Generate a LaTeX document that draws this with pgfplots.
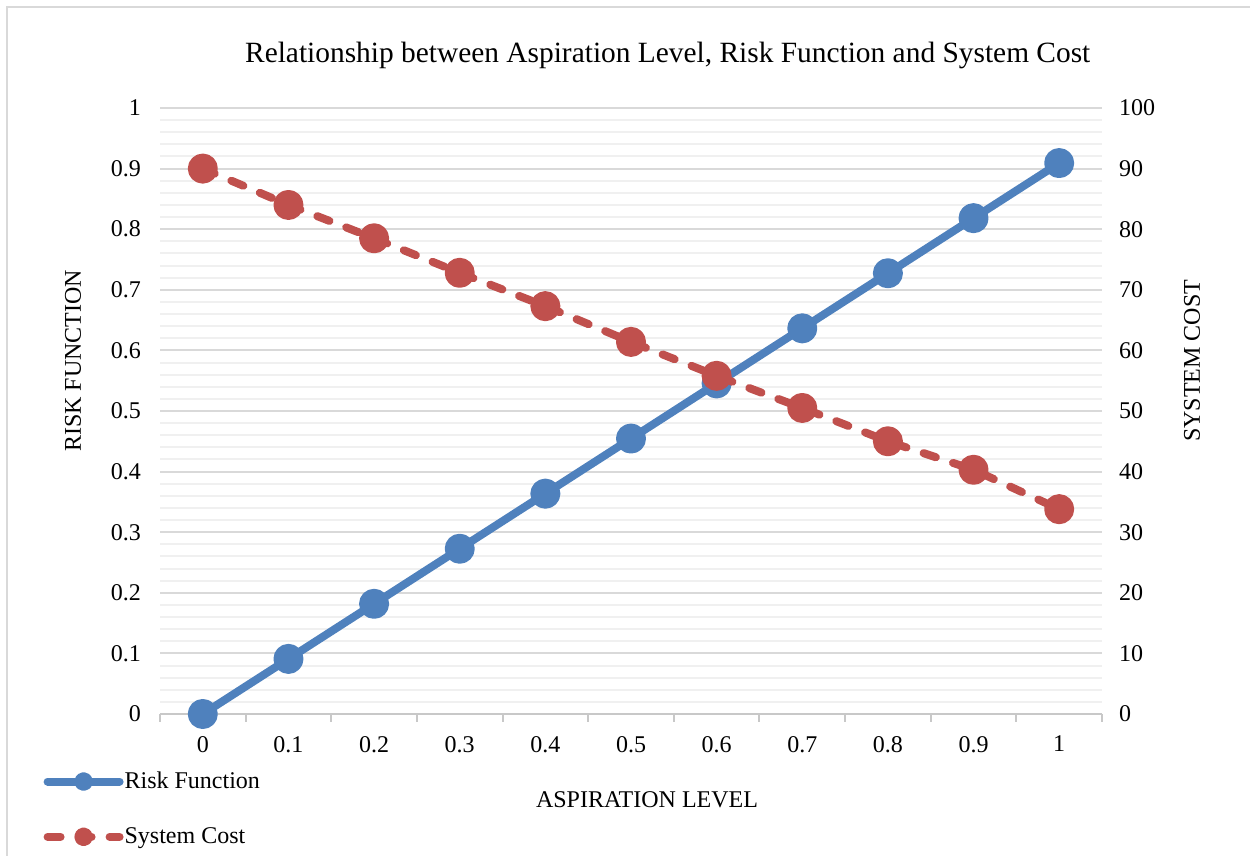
\documentclass[border=0pt]{standalone}
\usepackage{pgfplots}
\pgfplotsset{compat=1.18}
\usepackage{pgfplotstable}
\usepackage{fontspec}
\setmainfont{Liberation Serif}

\definecolor{riskblue}{HTML}{4F81BD}
\definecolor{costred}{HTML}{C0504D}
\definecolor{majgrid}{HTML}{D9D9D9}
\definecolor{mingrid}{HTML}{F0F0F0}
\definecolor{axisgray}{HTML}{C8C8C8}
\definecolor{framegray}{HTML}{D9D9D9}

% aspiration level vs. risk function and system cost
\pgfplotstableread{
level risk
0.0 0.0000
0.1 0.0909
0.2 0.1818
0.3 0.2727
0.4 0.3636
0.5 0.4545
0.6 0.5455
0.7 0.6364
0.8 0.7273
0.9 0.8182
1.0 0.9091
}\risktable

\pgfplotstableread{
level cost
0.0 90.0
0.1 84.0
0.2 78.5
0.3 72.8
0.4 67.3
0.5 61.4
0.6 55.8
0.7 50.5
0.8 45.0
0.9 40.3
1.0 33.8
}\costtable

\pgfplotsset{
  common/.style={
    scale only axis,
    width=471pt, height=303pt,
    at={(80pt,71pt)}, anchor=south west,
    xmin=-0.05, xmax=1.05,
    font=\fontsize{12}{14}\selectfont,
    /pgf/number format/assume math mode=true,
    major tick length=0pt,
    tick style={draw=none},
  },
  riskstyle/.style={riskblue, line width=4pt, line cap=round, line join=round,
    mark=*, mark size=5.5pt, mark options={fill=riskblue, draw=riskblue, solid}},
  coststyle/.style={costred, line width=4pt, line cap=round, line join=round,
    dash pattern=on 6.5pt off 9pt,
    mark=*, mark size=5.5pt, mark options={fill=costred, draw=costred, solid}},
}

\begin{document}
\begin{tikzpicture}
\path[use as bounding box] (0,0) rectangle (625pt,428pt);
\draw[framegray, line width=1pt] (3.5pt,0) -- (3.5pt,424.5pt) -- (625pt,424.5pt);

% left axis: risk function
\begin{axis}[
  common,
  ymin=0, ymax=1,
  xtick={0,0.1,0.2,0.3,0.4,0.5,0.6,0.7,0.8,0.9,1},
  xticklabels={0,0.1,0.2,0.3,0.4,0.5,0.6,0.7,0.8,0.9,1},
  minor xtick={-0.05,0.05,0.15,0.25,0.35,0.45,0.55,0.65,0.75,0.85,0.95,1.05},
  minor x tick style={draw=axisgray, line width=1pt},
  minor tick length=4pt,
  tick align=outside,
  ytick={0,0.1,0.2,0.3,0.4,0.5,0.6,0.7,0.8,0.9,1},
  yticklabels={0,0.1,0.2,0.3,0.4,0.5,0.6,0.7,0.8,0.9,1},
  minor y tick num=4,
  minor y tick style={draw=none},
  ymajorgrids, yminorgrids,
  major grid style={majgrid, line width=1pt},
  minor grid style={mingrid, line width=1pt},
  axis x line*=bottom, axis y line*=left,
  x axis line style={axisgray, line width=1pt, -},
  y axis line style={draw=none},
  xticklabel style={yshift=-7.5pt},
  yticklabel style={xshift=-6pt},
  every axis y label/.style={at={(axis description cs:-0.0924,0.583)}, rotate=90, anchor=center},
  every axis x label/.style={at={(axis description cs:0.517,-0.142)}, anchor=center},
  ylabel={RISK FUNCTION},
  xlabel={ASPIRATION LEVEL},
  title={Relationship between Aspiration Level, Risk Function and System Cost},
  every axis title/.style={at={(axis description cs:0.539,1.086)}, anchor=center,
    font=\fontsize{14.7}{17}\selectfont},
]
\addplot[riskstyle] table[x=level, y=risk] {\risktable};
\end{axis}

% right axis: system cost
\begin{axis}[
  common,
  ymin=0, ymax=100,
  xtick=\empty,
  axis x line=none,
  axis y line*=right,
  y axis line style={draw=none},
  ytick={0,10,20,30,40,50,60,70,80,90,100},
  yticklabel style={xshift=5pt, anchor=west},
  every axis y label/.style={at={(axis description cs:1.0955,0.583)}, rotate=90, anchor=center},
  ylabel={SYSTEM COST},
  legend cell align=left,
  legend style={at={(axis description cs:-0.124,-0.088)}, anchor=north west,
    draw=none, fill=none, inner sep=0pt, row sep=14pt,
    font=\fontsize{12}{14}\selectfont,
    nodes={inner xsep=0.5pt}},
  legend image code/.code={%
    \draw[mark repeat=2, mark phase=2, #1, mark size=2.7pt]
      plot coordinates {(0pt,0pt) (18pt,0pt) (36pt,0pt)};},
]
\addlegendimage{riskstyle}
\addlegendentry{Risk Function}
\addplot[coststyle] table[x=level, y=cost] {\costtable};
\addlegendentry{System Cost}
\end{axis}
\end{tikzpicture}
\end{document}
